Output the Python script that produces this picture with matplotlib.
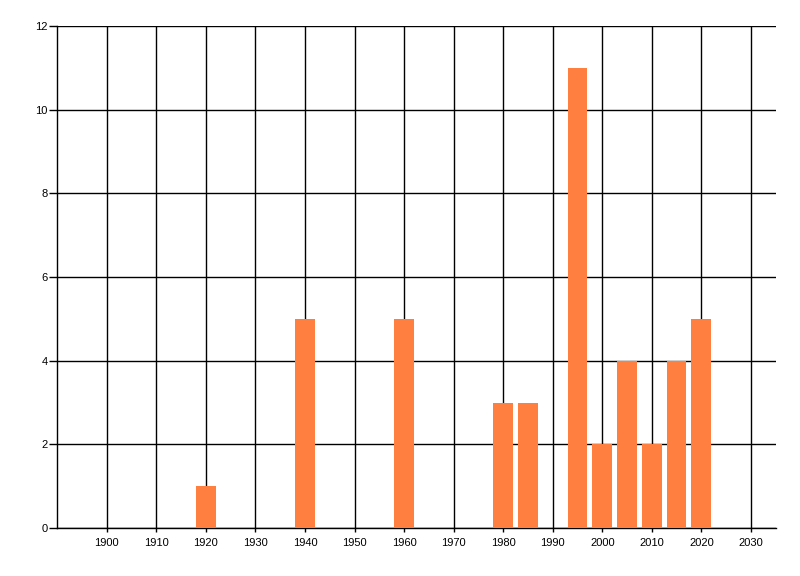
import matplotlib
matplotlib.use('Agg')
import matplotlib.pyplot as plt

years = [1920, 1940, 1960, 1980, 1985, 1995, 2000, 2005, 2010, 2015, 2020]
counts = [1, 5, 5, 3, 3, 11, 2, 4, 2, 4, 5]
x_ticks = list(range(1900, 2031, 10))
y_ticks = list(range(0, 13, 2))

fig = plt.figure(figsize=(8, 5.76), dpi=100)
ax = fig.add_axes([0.0716, 0.0833, 0.898, 0.8716])

ax.bar(years, counts, width=4, color='#FF7F40', zorder=3)

ax.set_xlim(1890, 2035)
ax.set_ylim(0, 12)
ax.set_xticks(x_ticks)
ax.set_yticks(y_ticks)
ax.grid(True, color='black', linewidth=1, zorder=1)

for s in ['top', 'right']:
    ax.spines[s].set_visible(False)
for s in ['left', 'bottom']:
    ax.spines[s].set_linewidth(1)
ax.tick_params(labelsize=8, width=1, colors='black')
ax.tick_params(axis='y', length=6, pad=1)
ax.tick_params(axis='x', length=3, pad=4)
for lbl in ax.get_xticklabels() + ax.get_yticklabels():
    lbl.set_family('Liberation Sans')

fig.savefig('out.png', dpi=100, facecolor='white')
